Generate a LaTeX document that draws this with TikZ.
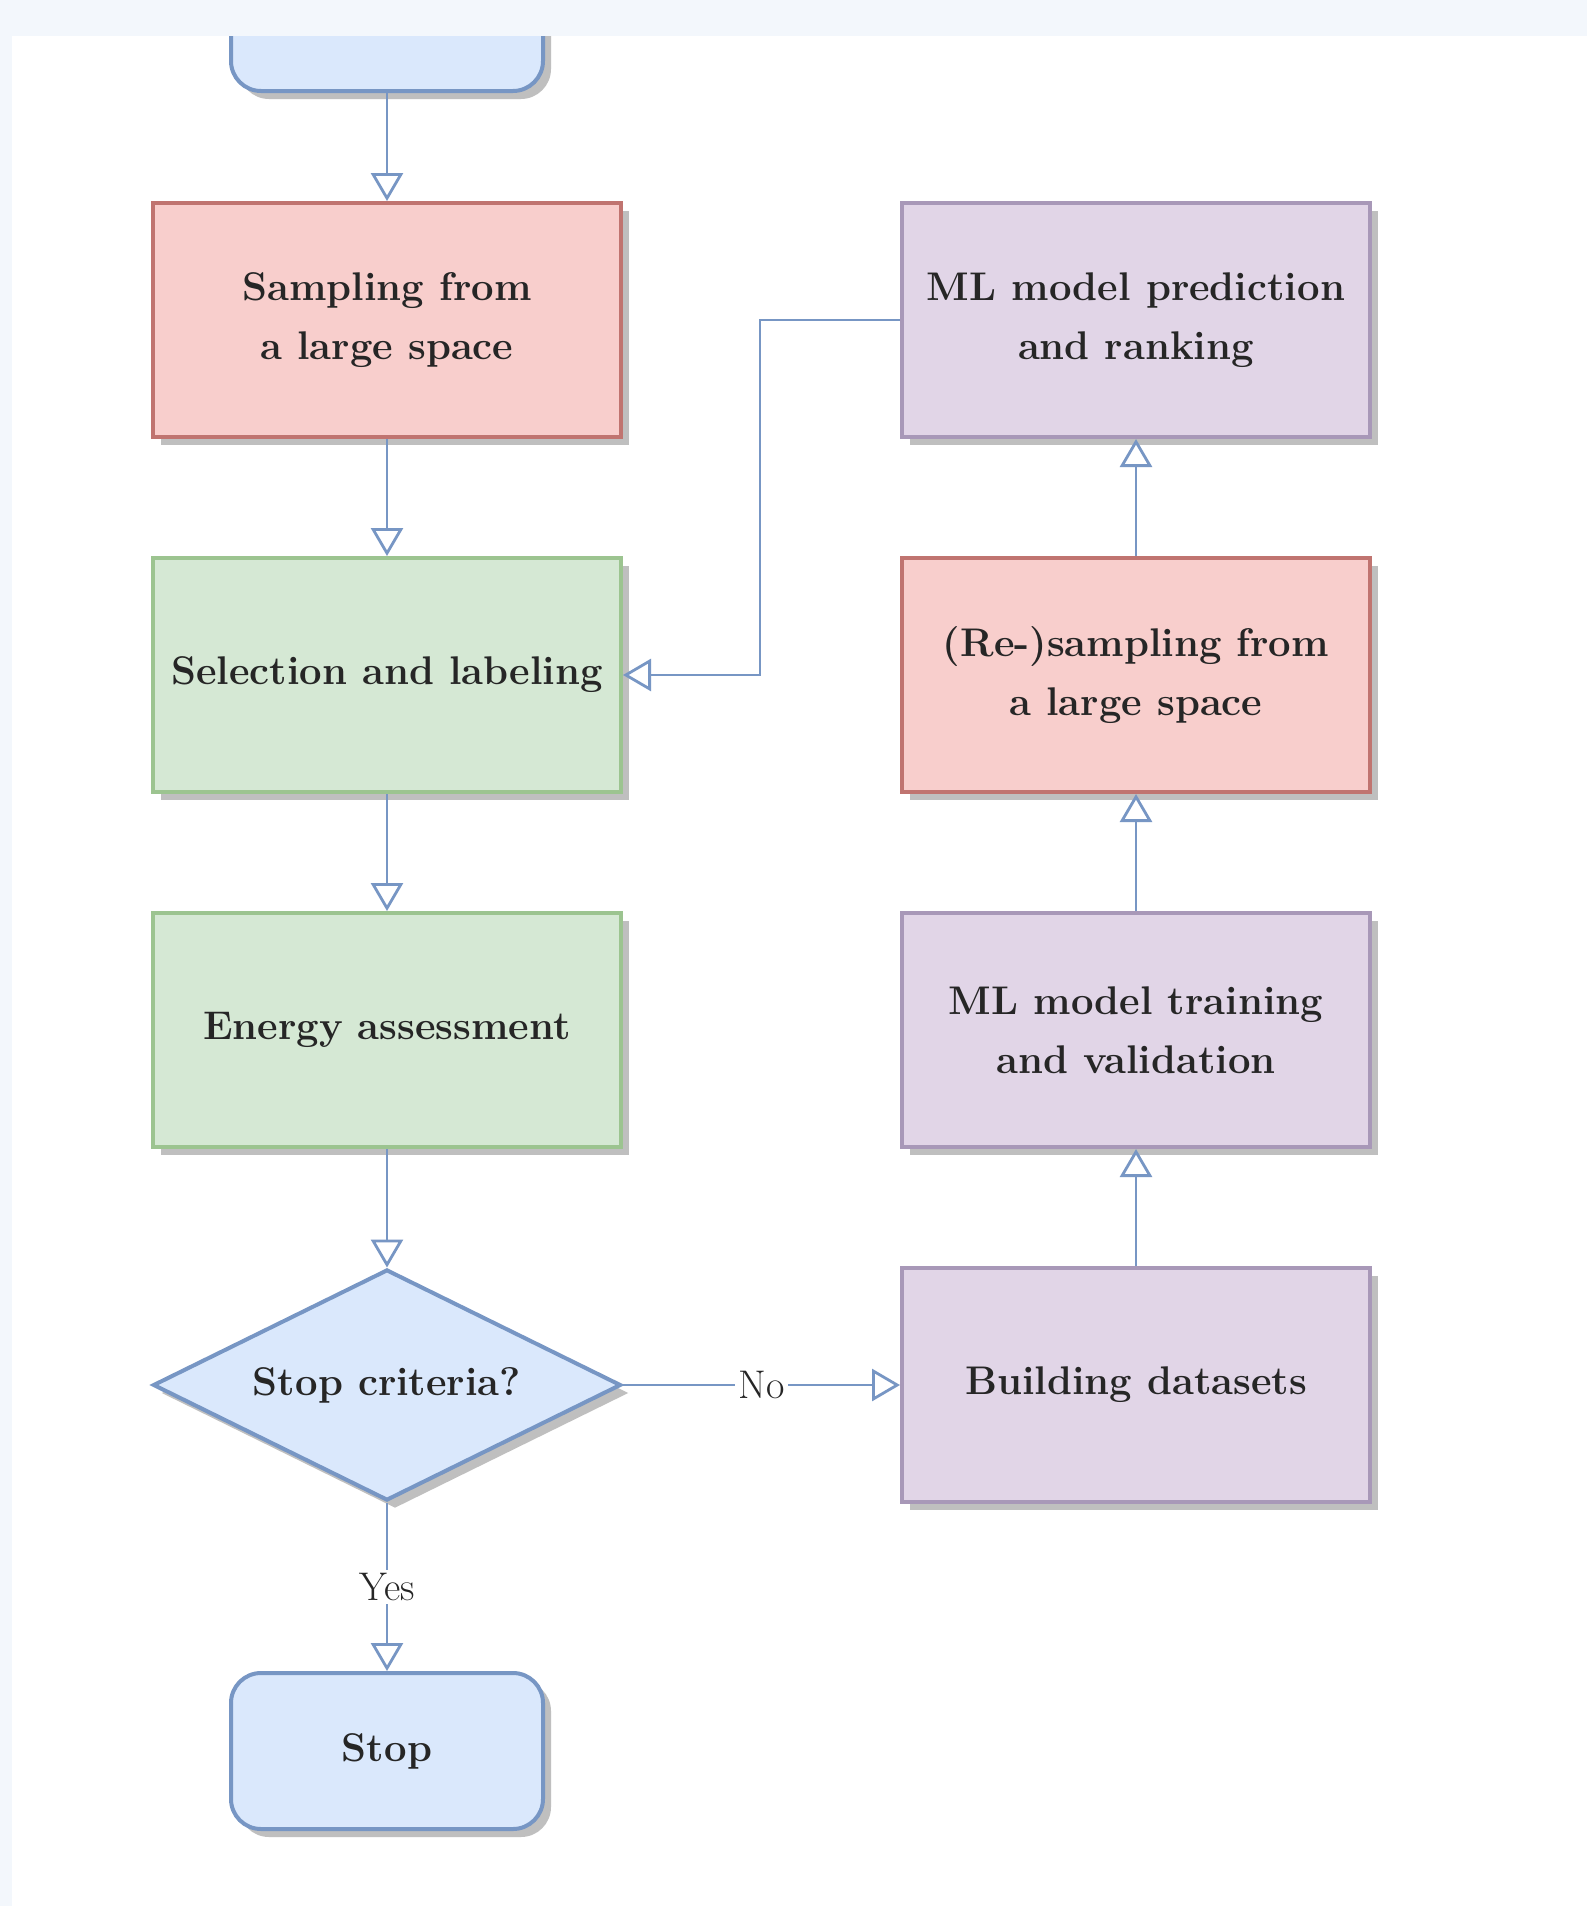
\documentclass[tikz,border=0pt]{standalone}
\usepackage{fontspec}
\usetikzlibrary{shapes.geometric,arrows.meta,shadows}
\definecolor{bgstrip}{HTML}{F3F7FC}
\definecolor{redfill}{HTML}{F8CECC}
\definecolor{redline}{HTML}{C07470}
\definecolor{greenfill}{HTML}{D5E8D4}
\definecolor{greenline}{HTML}{9CC490}
\definecolor{purplefill}{HTML}{E1D5E7}
\definecolor{purpleline}{HTML}{A898B8}
\definecolor{bluefill}{HTML}{DAE8FC}
\definecolor{blueline}{HTML}{7796C4}
\definecolor{txt}{HTML}{262626}
\begin{document}
\begin{tikzpicture}[x=0.5pt,y=-0.5pt,
  shad/.style={drop shadow={shadow xshift=4pt, shadow yshift=-4pt, fill=black!25, opacity=1}},
  box/.style={rectangle, draw, line width=2pt, minimum width=234pt, minimum height=117pt,
    align=center, inner sep=2pt, font=\fontsize{20}{29.5}\selectfont\bfseries, text=txt, shad},
  redbox/.style={box, fill=redfill, draw=redline},
  greenbox/.style={box, fill=greenfill, draw=greenline},
  purplebox/.style={box, fill=purplefill, draw=purpleline},
  termbox/.style={box, fill=bluefill, draw=blueline, rounded corners=15pt, minimum width=156pt, minimum height=78pt},
  decision/.style={diamond, draw=blueline, fill=bluefill, line width=2pt, minimum width=234pt,
    minimum height=115.5pt, inner sep=0pt, shape aspect=2, font=\fontsize{20}{29.5}\selectfont\bfseries, text=txt, shad},
  conn/.style={draw=blueline, line width=1.4pt, -{Triangle[open, length=14pt, width=16pt, line width=1.4pt]}},
  elabel/.style={fill=white, inner sep=1.5pt, font=\fontsize{20}{24}\selectfont, text=txt}
]
\useasboundingbox (0,0) rectangle (1587,1906);
\fill[white] (0,0) rectangle (1587,1906);
\node[termbox] (start) at (387,13) {};
\fill[bgstrip] (0,0) rectangle (1587,36);
\fill[bgstrip] (0,0) rectangle (12,1906);

\node[redbox] (samp) at (387,320) {Sampling from\\a large space};
\node[greenbox] (sel) at (387,675) {Selection and labeling};
\node[greenbox] (energy) at (387,1030) {Energy assessment};
\node[decision] (dec) at (387,1385) {Stop criteria?};
\node[termbox] (stop) at (387,1751) {Stop};

\node[purplebox] (pred) at (1136,320) {ML model prediction\\and ranking};
\node[redbox] (resamp) at (1136,675) {(Re-)sampling from\\a large space};
\node[purplebox] (train) at (1136,1030) {ML model training\\and validation};
\node[purplebox] (build) at (1136,1385) {Building datasets};

\draw[conn] (start) -- (samp);
\draw[conn] (samp) -- (sel);
\draw[conn] (sel) -- (energy);
\draw[conn] (energy) -- (dec);
\draw[conn] (dec) -- node[elabel] {Yes} (stop);
\draw[conn] (dec) -- node[elabel] {No} (build);
\draw[conn] (build) -- (train);
\draw[conn] (train) -- (resamp);
\draw[conn] (resamp) -- (pred);
\draw[conn] (pred.west) -- ++(-140,0) |- (sel.east);
\end{tikzpicture}
\end{document}
